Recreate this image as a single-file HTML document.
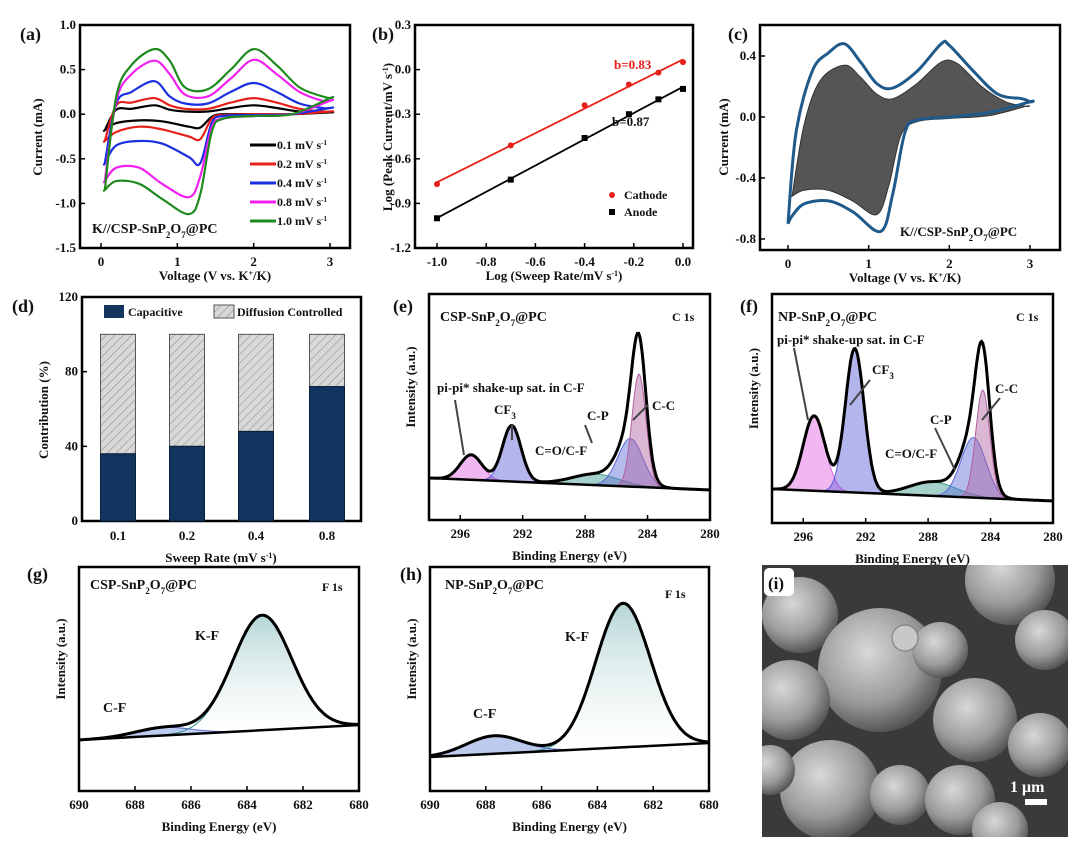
<!DOCTYPE html>
<html><head><meta charset="utf-8">
<style>
html,body{margin:0;padding:0;background:#fff;}
svg{display:block;font-family:"Liberation Serif",serif;font-weight:bold;}
text{font-family:"Liberation Serif",serif;font-weight:bold;}
</style></head>
<body>
<svg id="fig" width="1080" height="854" viewBox="0 0 1080 854" xmlns="http://www.w3.org/2000/svg">
<defs>
<pattern id="hatch" width="6" height="6" patternUnits="userSpaceOnUse" patternTransform="rotate(45)">
<rect width="6" height="6" fill="#d8d8d8"/><line x1="0" y1="0" x2="0" y2="6" stroke="#888" stroke-width="1"/></pattern>
<linearGradient id="gTeal" x1="0" y1="0" x2="0" y2="1"><stop offset="0" stop-color="#2f8a8a" stop-opacity="0.8"/><stop offset="1" stop-color="#ffffff" stop-opacity="0.2"/></linearGradient>
<radialGradient id="ball" cx="0.4" cy="0.35" r="0.7"><stop offset="0" stop-color="#d8d8d8"/><stop offset="0.6" stop-color="#9a9a9a"/><stop offset="1" stop-color="#4a4a4a"/></radialGradient>
<clipPath id="semClip"><rect x="762" y="565" width="306" height="272"/></clipPath>
</defs>
<g id="root"></g>
</svg>
<script>
// ---------- DATA ----------
// (a) CV curves
const cvAnodV = [0.05,0.2,0.4,0.7,0.9,1.1,1.4,1.7,2.0,2.3,2.6,2.9,3.0];
const cvCathV = [3.0,2.5,2.0,1.6,1.45,1.3,1.15,0.8,0.5,0.2,0.05];
const cvRates = ["0.1","0.2","0.4","0.8","1.0"];
const cvColors = ["#000000","#e8201a","#1a2fe0","#f020f0","#1e8a1e"];
const cvAnod01 = [-0.18,0.05,0.06,0.10,0.05,0.03,0.03,0.07,0.10,0.07,0.03,0.02,0.02];
const cvAnod02 = [-0.30,0.10,0.13,0.18,0.10,0.06,0.06,0.13,0.18,0.13,0.06,0.03,0.03];
const cvAnod04 = [-0.55,0.12,0.25,0.37,0.20,0.12,0.12,0.25,0.35,0.25,0.12,0.07,0.07];
const cvAnod08 = [-0.75,0.15,0.45,0.60,0.45,0.22,0.20,0.40,0.61,0.45,0.25,0.15,0.15];
const cvAnod10 = [-0.85,0.20,0.55,0.73,0.60,0.30,0.28,0.50,0.73,0.55,0.30,0.20,0.18];
const cvCath01 = [0.02,0.0,0.0,0.0,-0.03,-0.15,-0.14,-0.08,-0.07,-0.10,-0.18];
const cvCath02 = [0.03,0.0,0.0,-0.01,-0.05,-0.28,-0.25,-0.17,-0.14,-0.20,-0.30];
const cvCath04 = [0.07,0.0,-0.01,-0.02,-0.10,-0.55,-0.48,-0.33,-0.30,-0.35,-0.55];
const cvCath08 = [0.15,0.0,-0.02,-0.05,-0.15,-0.70,-0.93,-0.78,-0.60,-0.60,-0.75];
const cvCath10 = [0.18,0.0,-0.02,-0.05,-0.20,-0.90,-1.12,-0.95,-0.78,-0.75,-0.85];
// (b) log-log
const logRate = [-1.0,-0.7,-0.4,-0.22,-0.1,0.0];
const logCathode = [-0.77,-0.51,-0.24,-0.10,-0.02,0.05];
const logAnode = [-1.00,-0.74,-0.46,-0.30,-0.20,-0.13];
// (c) CV with capacitive area
const cOutAnodV = [0,0.1,0.3,0.5,0.7,0.9,1.1,1.3,1.6,1.9,2.0,2.3,2.6,2.9,3.0];
const cOutAnodI = [-0.70,-0.10,0.30,0.42,0.48,0.36,0.22,0.19,0.30,0.48,0.47,0.30,0.15,0.12,0.10];
const cOutCathV = [3.0,2.5,2.0,1.6,1.45,1.3,1.15,0.8,0.5,0.2,0.05,0];
const cOutCathI = [0.10,0.03,0.0,-0.02,-0.10,-0.50,-0.75,-0.62,-0.55,-0.57,-0.65,-0.70];
const cInAnodV = [0.05,0.2,0.4,0.7,0.9,1.1,1.3,1.6,1.9,2.1,2.4,2.7,2.95];
const cInAnodI = [-0.52,-0.05,0.24,0.34,0.26,0.15,0.12,0.22,0.36,0.35,0.20,0.10,0.07];
const cInCathV = [2.95,2.5,2.0,1.6,1.4,1.25,1.1,0.8,0.5,0.2,0.05];
const cInCathI = [0.07,0.01,-0.01,-0.03,-0.12,-0.45,-0.64,-0.55,-0.48,-0.48,-0.52];
// (d) contributions
const sweepCats = ["0.1","0.2","0.4","0.8"];
const capacitivePct = [36,40,48,72];
// (e),(f) C 1s peaks: centre eV, height, sigma
const c1sNames = ["pi-pi","CF3","C=O/C-F","C-P","C-C"];
const c1sColors = ["#e060e0","#5a5ad8","#3a9a8a","#5a6ad8","#b060a0"];
const c1sSigma = [0.7,0.6,1.5,0.8,0.45];
const eCentres = [295.3,292.7,287.3,285.1,284.55];
const eHeights = [25,56,11,48,113];
const eBaseline = [42,30];
const fCentres = [295.3,292.7,287.7,285.1,284.5];
const fHeights = [75,144,14,60,108];
const fBaseline = [34,22];
// (g),(h) F 1s
const f1sSigma = [1.0,1.06];
const gCentres = [687.0,683.46];
const gHeights = [8,115];
const gBaseline = [51,66];
const hCentres = [687.7,683.08];
const hHeights = [18,144];
const hSigma = [1.0,0.98];
const hBaseline = [34,48];

// ---------- HELPERS ----------
const NS="http://www.w3.org/2000/svg";
const root=document.getElementById('root');
function mk(tag,attrs,parent){const e=document.createElementNS(NS,tag);for(const k in attrs)e.setAttribute(k,attrs[k]);(parent||root).appendChild(e);return e;}
function lin(d0,d1,r0,r1){return v=>r0+(v-d0)*(r1-r0)/(d1-d0);}
function smooth(pts){let d="M"+pts[0][0].toFixed(1)+","+pts[0][1].toFixed(1);
 for(let i=0;i<pts.length-1;i++){const p0=pts[i-1]||pts[i],p1=pts[i],p2=pts[i+1],p3=pts[i+2]||p2;
  const c1=[p1[0]+(p2[0]-p0[0])/6,p1[1]+(p2[1]-p0[1])/6],c2=[p2[0]-(p3[0]-p1[0])/6,p2[1]-(p3[1]-p1[1])/6];
  d+=` C${c1[0].toFixed(1)},${c1[1].toFixed(1)} ${c2[0].toFixed(1)},${c2[1].toFixed(1)} ${p2[0].toFixed(1)},${p2[1].toFixed(1)}`;}
 return d;}
function txt(x,y,s,size,anchor,name,parent){const t=mk('text',{x:x,y:y,'font-size':size,'text-anchor':anchor||'start',fill:'#111'},parent);t.innerHTML=s;
 
 
 return t;}
function box(x0,y0,x1,y1,name){const r=mk('rect',{x:x0,y:y0,width:x1-x0,height:y1-y0,fill:'none',stroke:'#000','stroke-width':2.5});
 
 }
function xTicks(vals,labels,sx,yb,name){vals.forEach((v,i)=>{const x=sx(v);
  const l=mk('line',{x1:x,y1:yb,x2:x,y2:yb-5,stroke:'#000','stroke-width':1.5});
  
  
  txt(x,yb+18,labels[i],13,'middle',name+'-label');});}
function yTicks(vals,labels,sy,xl,name){vals.forEach((v,i)=>{const y=sy(v);
  const l=mk('line',{x1:xl,y1:y,x2:xl+5,y2:y,stroke:'#000','stroke-width':1.5});
  
  
  txt(xl-4,y+4,labels[i],13,'end',name+'-label');});}
function ytitle(x,y,s,name){const t=txt(x,y,s,13,'middle',name);t.setAttribute('transform',`rotate(-90 ${x} ${y})`);}
function panelLabel(x,y,s){txt(x,y,s,18,'start','panel-label-'+s.replace(/[()]/g,''));}
function gauss(x,c,h,s){return h*Math.exp(-0.5*((x-c)/s)**2);}

// ---------- (a) ----------
(function(){
 const sx=lin(0,3,101,330), sy=lin(1.0,-1.5,25,248);
 box(80,25,350,248,'plot-area-a');
 xTicks([0,1,2,3],["0","1","2","3"],sx,248,'x-tick-a');
 yTicks([1.0,0.5,0,-0.5,-1.0,-1.5],["1.0","0.5","0.0","-0.5","-1.0","-1.5"],sy,80,'y-tick-a');
 txt(215,280,'Voltage (V vs. K<tspan baseline-shift="super" font-size="8">+</tspan>/K)',13,'middle','x-axis-title-a');
 ytitle(42,137,'Current (mA)','y-axis-title-a');
 const an=[cvAnod01,cvAnod02,cvAnod04,cvAnod08,cvAnod10], ca=[cvCath01,cvCath02,cvCath04,cvCath08,cvCath10];
 an.forEach((arr,k)=>{const pts=cvAnodV.map((v,i)=>[sx(v),sy(arr[i])]).concat(cvCathV.map((v,i)=>[sx(v),sy(ca[k][i])]));
  pts.push(pts[0]);
  const p=mk('path',{d:smooth(pts),fill:'none',stroke:cvColors[k],'stroke-width':2.2});
  
  
  const ly=145+k*19;
  const l=mk('line',{x1:250,y1:ly,x2:276,y2:ly,stroke:cvColors[k],'stroke-width':3});
  
  
  txt(277,ly+4,cvRates[k]+' mV s<tspan baseline-shift="super" font-size="7">-1</tspan>',12,'start','legend-entry-'+cvRates[k]);});
 txt(92,233,'K//CSP-SnP<tspan baseline-shift="sub" font-size="9">2</tspan>O<tspan baseline-shift="sub" font-size="9">7</tspan>@PC',14,'start','annotation-a');
 panelLabel(20,40,'(a)');
})();

// ---------- (b) ----------
(function(){
 const sx=lin(-1,0,437,683), sy=lin(0.3,-1.2,25,248);
 box(415,25,693,248,'plot-area-b');
 xTicks([-1,-0.8,-0.6,-0.4,-0.2,0],["-1.0","-0.8","-0.6","-0.4","-0.2","0.0"],sx,248,'x-tick-b');
 yTicks([0.3,0,-0.3,-0.6,-0.9,-1.2],["0.3","0.0","-0.3","-0.6","-0.9","-1.2"],sy,415,'y-tick-b');
 txt(554,280,'Log (Sweep Rate/mV s<tspan baseline-shift="super" font-size="8">-1</tspan>)',13,'middle','x-axis-title-b');
 ytitle(392,137,'Log (Peak Current/mV s<tspan baseline-shift="super" font-size="8">-1</tspan>)','y-axis-title-b');
 function fit(ys){const n=logRate.length,mx=logRate.reduce((a,b)=>a+b)/n,my=ys.reduce((a,b)=>a+b)/n;
  let num=0,den=0;logRate.forEach((x,i)=>{num+=(x-mx)*(ys[i]-my);den+=(x-mx)**2;});const b=num/den;return [b,my-b*mx];}
 [[logCathode,'#e8201a','cathode','circle'],[logAnode,'#000','anode','rect']].forEach(([ys,col,nm,shape])=>{
  const [b,a]=fit(ys);
  const l=mk('line',{x1:sx(-1),y1:sy(a-b),x2:sx(0),y2:sy(a),stroke:col,'stroke-width':1.8});
  
  
  ys.forEach((v,i)=>{let m;
   if(shape==='circle')m=mk('circle',{cx:sx(logRate[i]),cy:sy(v),r:3,fill:col});
   else m=mk('rect',{x:sx(logRate[i])-3,y:sy(v)-3,width:6,height:6,fill:col});
   
   });});
 txt(614,69,'b=0.83',13,'start','slope-label-cathode').setAttribute('fill','#e8201a');
 txt(612,126,'b=0.87',13,'start','slope-label-anode');
 const lc=mk('circle',{cx:612,cy:195,r:3,fill:'#e8201a'});
 
 
 txt(624,199,'Cathode',12,'start','legend-entry-cathode');
 const la=mk('rect',{x:609,y:209,width:6,height:6,fill:'#000'});
 
 
 txt(624,216,'Anode',12,'start','legend-entry-anode');
 panelLabel(372,40,'(b)');
})();

// ---------- (c) ----------
(function(){
 const sx=lin(0,3,788,1030), sy=lin(0,0.4,117,56);
 box(760,25,1060,250,'plot-area-c');
 xTicks([0,1,2,3],["0","1","2","3"],sx,250,'x-tick-c');
 yTicks([0.4,0,-0.4,-0.8],["0.4","0.0","-0.4","-0.8"],sy,760,'y-tick-c');
 txt(905,282,'Voltage (V vs. K<tspan baseline-shift="super" font-size="8">+</tspan>/K)',13,'middle','x-axis-title-c');
 ytitle(728,137,'Current (mA)','y-axis-title-c');
 const ip=cInAnodV.map((v,i)=>[sx(v),sy(cInAnodI[i])]).concat(cInCathV.map((v,i)=>[sx(v),sy(cInCathI[i])]));ip.push(ip[0]);
 const pin=mk('path',{d:smooth(ip),fill:'#555',stroke:'#333','stroke-width':1});
 
 
 const op=cOutAnodV.map((v,i)=>[sx(v),sy(cOutAnodI[i])]).concat(cOutCathV.map((v,i)=>[sx(v),sy(cOutCathI[i])]));
 const po=mk('path',{d:smooth(op),fill:'none',stroke:'#1f5a8a','stroke-width':3});
 
 
 txt(900,236,'K//CSP-SnP<tspan baseline-shift="sub" font-size="9">2</tspan>O<tspan baseline-shift="sub" font-size="9">7</tspan>@PC',13,'start','annotation-c');
 panelLabel(728,40,'(c)');
})();

// ---------- (d) ----------
(function(){
 const sy=lin(0,120,521,297), centres=[118,187,256,327], w=35;
 box(82,297,361,521,'plot-area-d');
 yTicks([0,40,80,120],["0","40","80","120"],sy,82,'y-tick-d');
 sweepCats.forEach((c,i)=>{
  const d=mk('rect',{x:centres[i]-w/2,y:sy(100),width:w,height:sy(capacitivePct[i])-sy(100),fill:'url(#hatch)',stroke:'#555','stroke-width':1});
  
  
  const b=mk('rect',{x:centres[i]-w/2,y:sy(capacitivePct[i]),width:w,height:sy(0)-sy(capacitivePct[i]),fill:'#12345e',stroke:'#0a1f3a','stroke-width':1});
  
  
  txt(centres[i],540,c,13,'middle','x-tick-label-d');});
 txt(221,562,'Sweep Rate (mV s<tspan baseline-shift="super" font-size="8">-1</tspan>)',13,'middle','x-axis-title-d');
 ytitle(48,410,'Contribution (%)','y-axis-title-d');
 const s1=mk('rect',{x:104,y:305,width:20,height:13,fill:'#12345e'});
 
 
 txt(128,316,'Capacitive',12,'start','legend-entry-capacitive');
 const s2=mk('rect',{x:214,y:305,width:20,height:13,fill:'url(#hatch)',stroke:'#555'});
 
 
 txt(237,316,'Diffusion Controlled',12,'start','legend-entry-diffusion');
 panelLabel(12,312,'(d)');
})();

// ---------- XPS helper ----------
function xps(opt){
 const sx=lin(opt.e0,opt.e1,opt.x0,opt.x1), sy=lin(0,opt.y1-opt.y0,opt.y1,opt.y0);
 const base=e=>opt.base[0]+(e-opt.e0)*(opt.base[1]-opt.base[0])/(opt.e1-opt.e0);
 const N=240, es=[];for(let i=0;i<=N;i++)es.push(opt.e0+(opt.e1-opt.e0)*i/N);
 opt.centres.forEach((c,k)=>{
  let d="M"+sx(es[0])+","+sy(base(es[0]));
  es.forEach(e=>{d+=" L"+sx(e).toFixed(1)+","+sy(base(e)+gauss(e,c,opt.heights[k],opt.sigma[k])).toFixed(1);});
  d+=" L"+sx(es[N])+","+sy(base(es[N]))+" Z";
  const p=mk('path',{d:d,fill:opt.fills[k],'fill-opacity':0.45,stroke:opt.strokes[k],'stroke-width':1});
  
  });
 let d="";es.forEach((e,i)=>{let v=base(e);opt.centres.forEach((c,k)=>v+=gauss(e,c,opt.heights[k],opt.sigma[k]));d+=(i?" L":"M")+sx(e).toFixed(1)+","+sy(v).toFixed(1);});
 const env=mk('path',{d:d,fill:'none',stroke:'#000','stroke-width':3});
 
 
 const bl=mk('line',{x1:sx(opt.e0),y1:sy(opt.base[0]),x2:sx(opt.e1),y2:sy(opt.base[1]),stroke:'#000','stroke-width':2.5});
 
 
 box(opt.x0,opt.y0,opt.x1,opt.y1,'plot-area-'+opt.id);
 xTicks(opt.ticks,opt.ticks.map(String),sx,opt.y1,'x-tick-'+opt.id);
 txt((opt.x0+opt.x1)/2,opt.y1+40,'Binding Energy (eV)',13,'middle','x-axis-title-'+opt.id);
 ytitle(opt.x0-14,(opt.y0+opt.y1)/2-20,'Intensity (a.u.)','y-axis-title-'+opt.id);
 return sx;
}
xps({id:'e',e0:298,e1:280,x0:429,x1:710,y0:294,y1:520,base:eBaseline,centres:eCentres,heights:eHeights,sigma:c1sSigma,names:c1sNames,
 fills:c1sColors,strokes:c1sColors,ticks:[296,292,288,284,280]});
xps({id:'f',e0:298,e1:280,x0:772,x1:1053,y0:294,y1:523,base:fBaseline,centres:fCentres,heights:fHeights,sigma:c1sSigma,names:c1sNames,
 fills:c1sColors,strokes:c1sColors,ticks:[296,292,288,284,280]});
xps({id:'g',e0:690,e1:680,x0:79,x1:359,y0:567,y1:791,base:gBaseline,centres:gCentres,heights:gHeights,sigma:f1sSigma,names:["C-F","K-F"],
 fills:["#6a8ad8","url(#gTeal)"],strokes:["#4a5ac8","#2f8a8a"],ticks:[690,688,686,684,682,680]});
xps({id:'h',e0:690,e1:680,x0:430,x1:709,y0:567,y1:791,base:hBaseline,centres:hCentres,heights:hHeights,sigma:hSigma,names:["C-F","K-F"],
 fills:["#6a8ad8","url(#gTeal)"],strokes:["#4a5ac8","#2f8a8a"],ticks:[690,688,686,684,682,680]});

// annotations XPS
const sub=(a,b)=>a+'<tspan baseline-shift="sub" font-size="9">'+b+'</tspan>';
txt(440,321,'CSP-SnP'+sub('','2')+'O'+sub('','7')+'@PC',14,'start','sample-label-e');
txt(672,321,'C 1s',12,'start','region-label-e');
txt(437,392,'pi-pi* shake-up sat. in C-F',13,'start','annotation-pipi-e');
txt(494,414,'CF'+sub('','3'),13,'start','annotation-cf3-e');
txt(535,455,'C=O/C-F',13,'start','annotation-co-e');
txt(587,420,'C-P',13,'start','annotation-cp-e');
txt(652,410,'C-C',13,'start','annotation-cc-e');
txt(778,321,'NP-SnP'+sub('','2')+'O'+sub('','7')+'@PC',14,'start','sample-label-f');
txt(1016,321,'C 1s',12,'start','region-label-f');
txt(777,344,'pi-pi* shake-up sat. in C-F',13,'start','annotation-pipi-f');
txt(872,374,'CF'+sub('','3'),13,'start','annotation-cf3-f');
txt(885,458,'C=O/C-F',13,'start','annotation-co-f');
txt(930,424,'C-P',13,'start','annotation-cp-f');
txt(995,393,'C-C',13,'start','annotation-cc-f');
txt(90,589,'CSP-SnP'+sub('','2')+'O'+sub('','7')+'@PC',14,'start','sample-label-g');
txt(322,591,'F 1s',12,'start','region-label-g');
txt(195,640,'K-F',14,'start','annotation-kf-g');
txt(103,712,'C-F',14,'start','annotation-cf-g');
txt(445,589,'NP-SnP'+sub('','2')+'O'+sub('','7')+'@PC',14,'start','sample-label-h');
txt(665,598,'F 1s',12,'start','region-label-h');
txt(565,641,'K-F',14,'start','annotation-kf-h');
txt(473,718,'C-F',14,'start','annotation-cf-h');
// arrows
[[464,455,455,400],[512,440,512,425],[592,443,585,425],[633,420,648,405],[808,420,794,348],[850,405,870,380],[955,470,935,428],[982,420,1000,398]].forEach(a=>{
 const l=mk('line',{x1:a[0],y1:a[1],x2:a[2],y2:a[3],stroke:'#444','stroke-width':2});
 
 });
panelLabel(393,312,'(e)');panelLabel(740,312,'(f)');panelLabel(27,580,'(g)');panelLabel(400,580,'(h)');

// ---------- (i) SEM image ----------
(function(){
 const g=mk('g',{'clip-path':'url(#semClip)'});
 
 
 mk('rect',{x:762,y:565,width:306,height:272,fill:'#3a3a3a'},g);
 [[800,615,38],[880,670,62],[1010,580,45],[1045,640,30],[790,700,40],[830,790,50],[900,795,30],[975,720,42],[1040,745,32],[940,650,28],[960,800,35],[770,770,25],[1000,830,28]].forEach(c=>{
  mk('circle',{cx:c[0],cy:c[1],r:c[2],fill:'url(#ball)'},g);});
 mk('circle',{cx:905,cy:638,r:13,fill:'#c8c8c8',stroke:'#777'},g);
 mk('rect',{x:764,y:568,width:30,height:28,rx:5,fill:'#fff'},g);
 txt(768,589,'(i)',17,'start','panel-label-i',g);
 const t=txt(1010,792,'1 μm',16,'start','scale-bar-label',g);t.setAttribute('fill','#fff');
 const sb=mk('rect',{x:1025,y:799,width:22,height:6,fill:'#fff'},g);
 
 
})();
</script>
</body></html>
